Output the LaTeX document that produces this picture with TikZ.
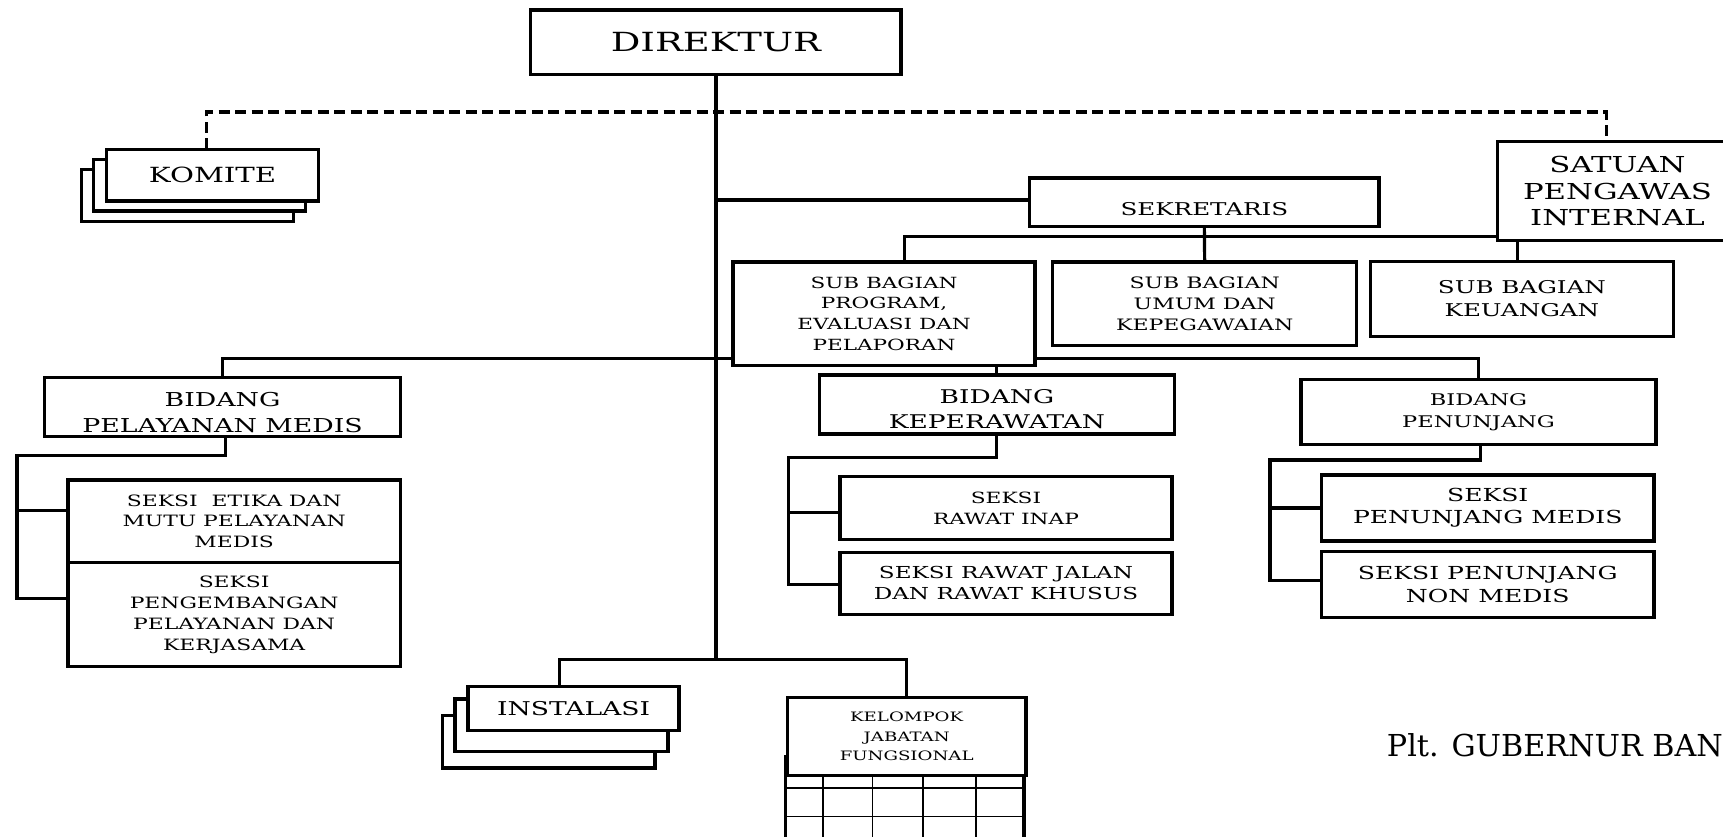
\documentclass[tikz,border=0pt]{standalone}
\usepackage{fontspec}
\setmainfont{DejaVu Serif}
\newfontfamily\stretchfont[FakeStretch=1.4]{DejaVu Serif}
\newfontfamily\plainfont{DejaVu Serif}
\usetikzlibrary{backgrounds}
\newcommand\myfs[2]{\fontsize{#1pt}{#2pt}\selectfont}
\tikzset{
  box/.style={draw, line width=3pt, fill=white, align=center, inner sep=0pt, outer sep=0pt},
  conn/.style={line width=2.9pt, line join=miter},
  dashconn/.style={line width=2.9pt, dash pattern=on 10pt off 5pt},
  stackbox/.style={draw, line width=3pt, fill=white},
  gridthick/.style={line width=3pt},
  gridthin/.style={line width=1.6pt},
}
\begin{document}
\begin{tikzpicture}[x=1pt,y=-1pt]
\useasboundingbox (0,0) rectangle (1568,762);
\clip (0,0) rectangle (1568,762);

% ---- nodes ----
\node[box, minimum width=337pt, minimum height=59pt, font={\stretchfont\myfs{24}{28}}] (dir) at (651.5,38.5) {DIREKTUR};
\node[box, minimum width=193pt, minimum height=47pt, font={\stretchfont\myfs{19}{22}}] (kom) at (193.5,159.5) {KOMITE};
\node[box, minimum width=318pt, minimum height=44pt, font={\stretchfont\myfs{16}{20}}] (sek) at (1096,184) {\rule{0pt}{23.7pt}SEKRETARIS};
\node[box, minimum width=218pt, minimum height=90pt, font={\stretchfont\myfs{20}{24}}] (sat) at (1472,174) {SATUAN\\PENGAWAS\\INTERNAL};
\node[box, minimum width=275pt, minimum height=94pt, font={\stretchfont\myfs{14}{19}}] (prog) at (804.5,285.5) {SUB BAGIAN\\PROGRAM,\\EVALUASI DAN\\PELAPORAN};
\node[box, minimum width=276.5pt, minimum height=76pt, font={\stretchfont\myfs{14.3}{19}}] (umum) at (1096.3,276.5) {SUB BAGIAN\\UMUM DAN\\KEPEGAWAIAN};
\node[box, minimum width=276pt, minimum height=68pt, font={\stretchfont\myfs{16}{21}}] (keu) at (1385,272) {SUB BAGIAN\\KEUANGAN};
\node[box, minimum width=324pt, minimum height=53.5pt, font={\stretchfont\myfs{17.4}{24}}] (bpm) at (202.5,370.3) {\rule{0pt}{22.7pt}BIDANG\\PELAYANAN MEDIS};
\node[box, minimum width=323pt, minimum height=53.7pt, font={\stretchfont\myfs{17.2}{23}}] (kep) at (907.2,368.2) {\rule{0pt}{20.5pt}BIDANG\\KEPERAWATAN};
\node[box, minimum width=323pt, minimum height=59.7pt, font={\stretchfont\myfs{14.6}{20}}] (pen) at (1345.5,374.9) {BIDANG\\PENUNJANG};
\node[box, minimum width=302.6pt, minimum height=75.2pt, font={\stretchfont\myfs{14.2}{19}}] (etika) at (213.1,474.4) {SEKSI\ \ ETIKA DAN\\MUTU PELAYANAN\\MEDIS};
\node[box, minimum width=302.6pt, minimum height=94.7pt, font={\stretchfont\myfs{14.2}{19}}] (peng) at (213.1,559.4) {SEKSI\\PENGEMBANGAN\\PELAYANAN DAN\\KERJASAMA};
\node[box, minimum width=302pt, minimum height=57pt, font={\stretchfont\myfs{14.1}{19}}] (inap) at (915.5,462.3) {SEKSI\\RAWAT INAP};
\node[box, minimum width=302pt, minimum height=56.4pt, font={\stretchfont\myfs{15}{19}}] (jalan) at (915.5,530.8) {SEKSI RAWAT JALAN\\DAN RAWAT KHUSUS};
\node[box, minimum width=302.6pt, minimum height=60pt, font={\stretchfont\myfs{16.3}{20}}] (pmed) at (1353.9,462.3) {SEKSI\\PENUNJANG MEDIS};
\node[box, minimum width=302.6pt, minimum height=60pt, font={\stretchfont\myfs{16.3}{21}}] (nonmed) at (1353.9,532) {SEKSI PENUNJANG\\NON MEDIS};
\node[box, minimum width=192pt, minimum height=40pt, font={\stretchfont\myfs{17.3}{20}}] (inst) at (522,645) {INSTALASI};
\node[box, minimum width=217pt, minimum height=71.3pt, font={\stretchfont\myfs{11.8}{18}}] (kel) at (825.1,670.2) {KELOMPOK\\JABATAN\\FUNGSIONAL};

\node[anchor=base west, inner sep=0pt, font={\plainfont\myfs{27.5}{30}}] (plt) at (1262,688) {Plt. GUBERNUR BAN};

% ---- grid under KELOMPOK ----
\draw[gridthin] (715,717) -- (932,717);
\draw[gridthin] (715,743) -- (932,743);
\foreach \gx in {749,794,840,888} \draw[gridthin] (\gx,706) -- (\gx,762);
\draw[gridthick] (715,687) -- (715,762);
\draw[gridthick] (932,706) -- (932,762);

% ---- helper coordinates ----
\coordinate (dk) at (188,102);
\coordinate (ds) at (1462,102);
\coordinate (sl) at ([yshift=2pt]sek.west);
\coordinate (sb) at (0,215.5);
\coordinate (px) at (823,0);
\coordinate (kx) at (1381,0);
\coordinate (bb) at (0,326.5);
\coordinate (pmR) at (15.5,414.7);
\coordinate (kpR) at (717.5,416.2);
\coordinate (pnR) at (1155.7,418.6);
\coordinate (tb) at (0,600);
\coordinate (ix) at (509,0);

\begin{scope}[on background layer]
  \fill[white] (0,0) rectangle (1568,762);
  % stacked boxes
  \draw[stackbox] ([shift={(-23,18.5)}]kom.north west) rectangle ([shift={(-23,18.5)}]kom.south east);
  \draw[stackbox] ([shift={(-12,9)}]kom.north west) rectangle ([shift={(-12,9)}]kom.south east);
  \draw[stackbox] ([shift={(-23,26)}]inst.north west) rectangle ([shift={(-22,34)}]inst.south east);
  \draw[stackbox] ([shift={(-12,11)}]inst.north west) rectangle ([shift={(-10,19)}]inst.south east);
  % connectors
  \draw[conn] (dir.south) -- (dir.south |- tb);
  \draw[dashconn] (kom.north -| dk) -- (dk) -- (ds) -- (sat.north -| ds);
  \draw[conn] (dir.south |- sl) -- (sl);
  \draw[conn] (sek.south) -- (umum.north);
  \draw[conn] (prog.north -| px) -- (px |- sb) -- (kx |- sb) -- (keu.north -| kx);
  \draw[conn] (bpm.north) -- (bpm.north |- bb) -- (pen.north |- bb) -- (pen.north);
  \draw[conn] (kep.north |- prog.south) -- (kep.north);
  \draw[conn] ([xshift=2.5pt]bpm.south) |- (pmR) |- ([yshift=9.7pt]etika.west);
  \draw[conn] (pmR) |- ([yshift=15pt]peng.west);
  \draw[conn] (kep.south) |- (kpR) |- ([yshift=-4pt]inap.west);
  \draw[conn] (kpR) |- ([yshift=-1pt]jalan.west);
  \draw[conn] ([xshift=2pt]pen.south) |- (pnR) |- (pmed.west);
  \draw[conn] (pnR) |- ([yshift=3.5pt]nonmed.west);
  \draw[conn] (inst.north -| ix) -- (ix |- tb) -- (kel.north |- tb) -- (kel.north);
\end{scope}
\end{tikzpicture}
\end{document}
